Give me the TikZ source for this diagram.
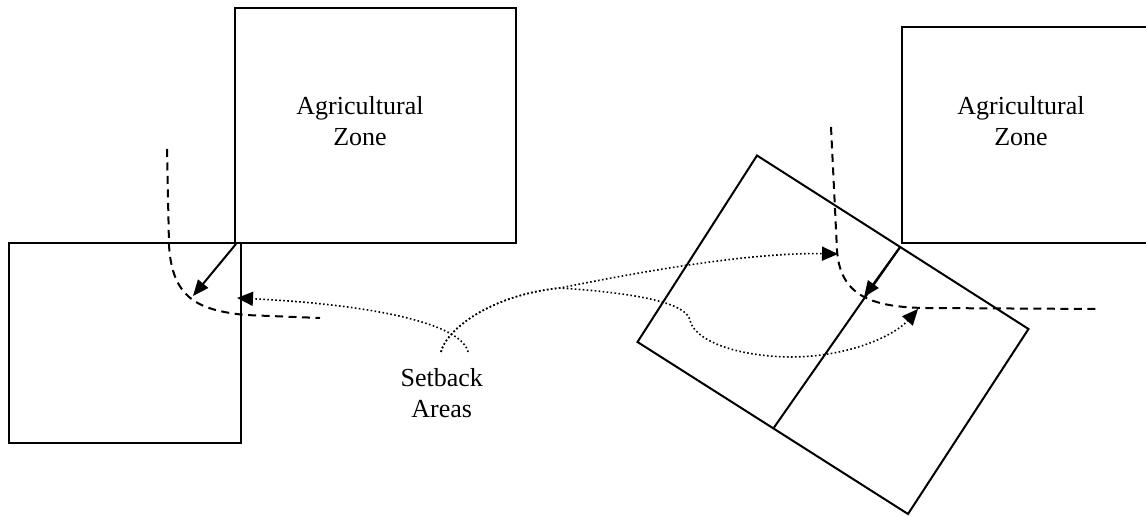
\documentclass[tikz,border=0pt]{standalone}
\usepackage{fontspec}
\setmainfont{Liberation Serif}
\usetikzlibrary{arrows.meta}
\begin{document}
\begin{tikzpicture}[x=0.5pt,y=-0.5pt,
  boxline/.style={line width=1pt},
  dashline/.style={line width=1pt, dash pattern=on 4pt off 2.75pt},
  dotarrow/.style={line width=0.8pt, dash pattern=on 0.8pt off 1.2pt, -{Triangle[length=8pt,width=7pt]}},
  dotline/.style={line width=0.8pt, dash pattern=on 0.8pt off 1.2pt},
  solidarrow/.style={line width=1pt, -{Triangle[length=8pt,width=6.5pt]}},
  lbl/.style={inner sep=0pt, anchor=base, font=\fontsize{13pt}{15.5pt}\selectfont}
]
\useasboundingbox (0,0) rectangle (1146,517);

% ---------- left diagram ----------
\draw[boxline] (235,8) rectangle (515.5,243);
\draw[boxline] (8.5,243) rectangle (241,443);
\node[lbl] (agL) at (360,115) {\begin{tabular}[t]{@{}c@{}}Agricultural\\Zone\end{tabular}};

\coordinate (cornerL) at (236,244);
\coordinate (tipL) at (193,296);
\draw[solidarrow] (cornerL) -- (tipL);

\coordinate (dashLs) at (167,149);
\coordinate (dashLe) at (320,318);
\draw[dashline] (dashLs) -- (169,245) .. controls (172,300) and (200,310) .. (245,315) -- (dashLe);

% ---------- right diagram ----------
\draw[boxline] (902,26.7) rectangle (1170,243.5);
\node[lbl] (agR) at (1021,115) {\begin{tabular}[t]{@{}c@{}}Agricultural\\Zone\end{tabular}};

\coordinate (T) at (757,155.5);
\coordinate (R) at (1028.5,329);
\coordinate (B) at (908,514);
\coordinate (L) at (637.5,342);
\draw[boxline] (T) -- (R) -- (B) -- (L) -- cycle;
\coordinate (divT) at (900.5,246.5);
\coordinate (divB) at (774,427.5);
\draw[boxline] (divT) -- (divB);

\coordinate (tipR) at (864,297);
\draw[solidarrow] (divT) -- (tipR);

\coordinate (dashRs) at (831,127);
\coordinate (dashRe) at (1096,309);
\draw[dashline] (dashRs) -- (837,250) .. controls (840,295) and (870,307) .. (925,308) -- (dashRe);

% ---------- setback label and dotted leaders ----------
\node[lbl] (setback) at (441.7,386.7) {\begin{tabular}[t]{@{}c@{}}Setback\\Areas\end{tabular}};

\coordinate (sA) at (441,352);
\coordinate (sB) at (468,352);
\coordinate (split) at (560,288);
\coordinate (tipU) at (838,254);
\coordinate (tipD) at (918,309);
\coordinate (tipLL) at (237,298);

\draw[dotarrow] (sB) .. controls (462,325) and (380,305) .. (tipLL);
\draw[dotarrow] (sA) .. controls (446,330) and (490,295) .. (split)
   .. controls (610,278) and (740,252) .. (tipU);
\draw[dotarrow] (sA) .. controls (446,330) and (490,295) .. (split)
   .. controls (620,292) and (685,300) .. (690,320)
   .. controls (693,338) and (730,356) .. (790,357)
   .. controls (850,357) and (895,335) .. (tipD);
\end{tikzpicture}
\end{document}
